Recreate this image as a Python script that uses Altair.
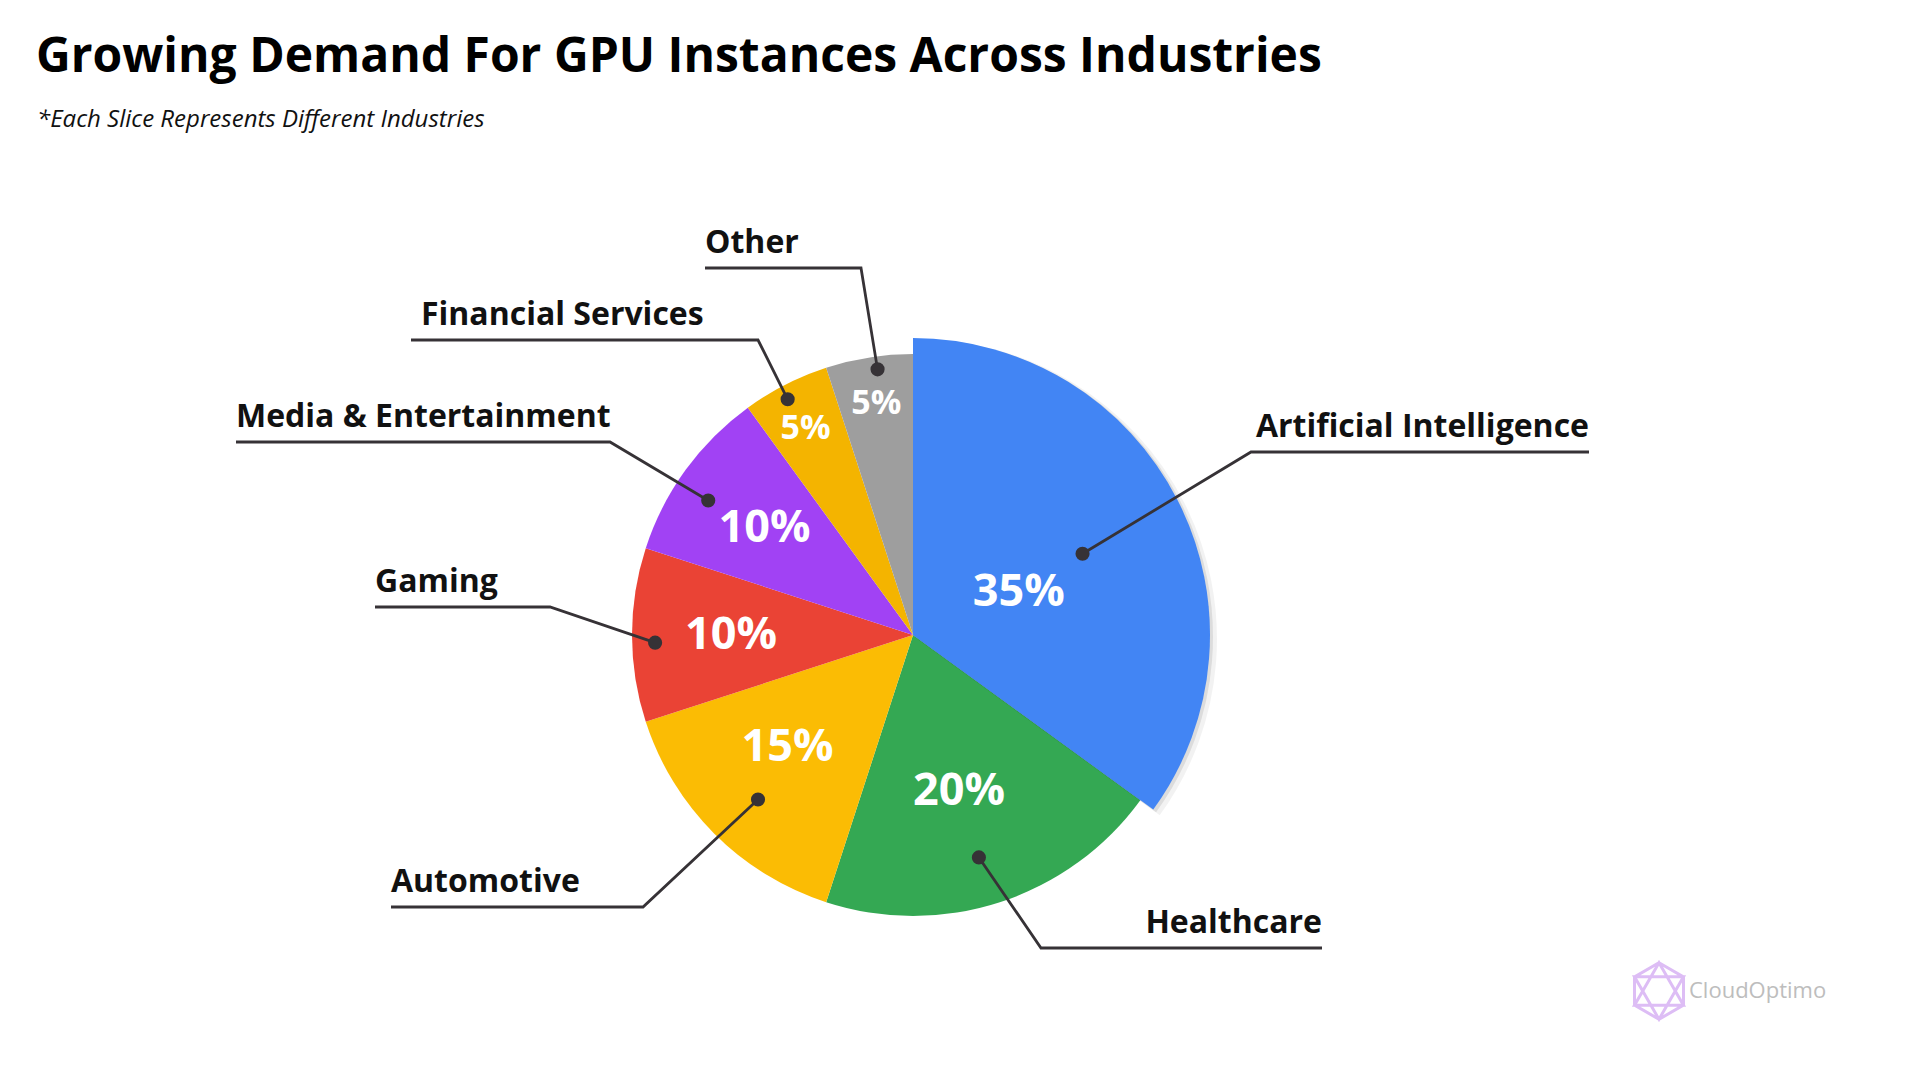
import math
import altair as alt
import pandas as pd

# ---------------- data ----------------
industries = ["Artificial Intelligence", "Healthcare", "Automotive", "Gaming",
              "Media & Entertainment", "Financial Services", "Other"]
shares = [35, 20, 15, 10, 10, 5, 5]
pct_labels = ["35%", "20%", "15%", "10%", "10%", "5%", "5%"]

title_text = "Growing Demand For GPU Instances Across Industries"
subtitle_text = "*Each Slice Represents Different Industries"
brand_text = "CloudOptimo"

# ---------------- style / layout ----------------
colors = ["#4285F4", "#34A853", "#FBBC04", "#EA4335", "#A142F4", "#F4B400", "#9E9E9E"]
OFF = 8                      # page margin
W, H = 1904, 1064
CX, CY = 913 - OFF, 635 - OFF
R = 281                      # regular slice radius
R_BIG = 297                  # highlighted slice radius
HIGHLIGHT = "Artificial Intelligence"

pct_r = [114, 163, 168, 182, 183, 232, 234]       # radius of % labels
pct_dang = [5.0, 1.6, 3.3, 0.0, -0.2, -0.6, 0.0]  # angle tweak of % labels (deg)
dot_r = [188, 232, 226, 258, 245, 267, 268]       # radius of leader dots
dot_dang = [1.4, 1.5, -1.7, -1.7, -2.7, -1.0, 1.4]
elbow_x = [1251, 1041, 643, 550, 610, 758, 861]   # page coords
line_y = [452, 948, 907, 607, 442, 340, 268]
outer_x = [1589, 1322, 391, 375, 236, 411, 705]
text_x = [1589, 1322, 391, 375, 236, 421, 705]

LINE_COLOR = "#363236"
FONT = "Open Sans"

# ---------------- tables ----------------
total = sum(shares)
pie_df = pd.DataFrame({
    "industry": industries,
    "value": shares,
    "idx": list(range(len(industries))),
})

cum = 0
label_angles = []
line_rows, dot_rows, lab_rows = [], [], []
for i, (name, v) in enumerate(zip(industries, shares)):
    mid = (cum + v / 2) / total * 2 * math.pi
    cum += v
    label_angles.append(mid + math.radians(pct_dang[i]))
    da = mid + math.radians(dot_dang[i])
    dx = CX + dot_r[i] * math.sin(da)
    dy = CY - dot_r[i] * math.cos(da)
    ex, ly, ox = elbow_x[i] - OFF, line_y[i] - OFF, outer_x[i] - OFF
    line_rows += [
        {"industry": name, "pt": 0, "x": dx, "y": dy},
        {"industry": name, "pt": 1, "x": ex, "y": ly},
        {"industry": name, "pt": 2, "x": ox, "y": ly},
    ]
    dot_rows.append({"industry": name, "x": dx, "y": dy})
    lab_rows.append({"industry": name, "x": text_x[i] - OFF, "y": ly - 15,
                     "side": "left" if ox < ex else "right"})

pct_df = pd.DataFrame({
    "label": pct_labels,
    "share": shares,
    "mid_angle": label_angles,
    "pct_r": pct_r,
})
lines_df = pd.DataFrame(line_rows)
dots_df = pd.DataFrame(dot_rows)
labs_df = pd.DataFrame(lab_rows)

# ---------------- pie ----------------
base = alt.Chart(pie_df).encode(
    theta=alt.Theta("value:Q", stack=True),
    order=alt.Order("idx:Q"),
)
color_enc = alt.Color("industry:N", scale=alt.Scale(domain=industries, range=colors), legend=None)
is_hl = alt.datum.industry == HIGHLIGHT

slices = base.mark_arc().encode(
    color=color_enc, x=alt.value(CX), y=alt.value(CY), radius=alt.value(R)
)
shadow1 = base.mark_arc(color="#000000").encode(
    x=alt.value(CX + 4), y=alt.value(CY + 4), radius=alt.value(R_BIG + 3),
    opacity=alt.condition(is_hl, alt.value(0.05), alt.value(0)),
)
shadow2 = base.mark_arc(color="#000000").encode(
    x=alt.value(CX + 2), y=alt.value(CY + 2), radius=alt.value(R_BIG + 1),
    opacity=alt.condition(is_hl, alt.value(0.09), alt.value(0)),
)
hl_slice = base.mark_arc().encode(
    color=color_enc, x=alt.value(CX), y=alt.value(CY), radius=alt.value(R_BIG),
    opacity=alt.condition(is_hl, alt.value(1), alt.value(0)),
)

# percentage labels near the middle angle of each slice
pct_text = alt.Chart(pct_df).mark_text(
    font=FONT, fontWeight="bold", color="white", align="center", baseline="middle"
).encode(
    theta=alt.Theta("mid_angle:Q", scale=None, stack=None),
    radius=alt.Radius("pct_r:Q", scale=None),
    x=alt.value(CX), y=alt.value(CY),
    text="label:N",
    size=alt.condition("datum.share < 10", alt.value(34), alt.value(45)),
)

# ---------------- leaders ----------------
leader_lines = alt.Chart(lines_df).mark_line(color=LINE_COLOR, strokeWidth=2.8).encode(
    x=alt.X("x:Q", scale=None, axis=None),
    y=alt.Y("y:Q", scale=None, axis=None),
    detail="industry:N",
    order="pt:Q",
)
leader_dots = alt.Chart(dots_df).mark_circle(size=200, color=LINE_COLOR, opacity=1).encode(
    x=alt.X("x:Q", scale=None, axis=None),
    y=alt.Y("y:Q", scale=None, axis=None),
)
lab_left = alt.Chart(labs_df).transform_filter(alt.datum.side == "left").mark_text(
    font=FONT, fontWeight="bold", fontSize=32, color="#111111",
    align="left", baseline="alphabetic").encode(
    x=alt.X("x:Q", scale=None, axis=None),
    y=alt.Y("y:Q", scale=None, axis=None),
    text="industry:N",
)
lab_right = alt.Chart(labs_df).transform_filter(alt.datum.side == "right").mark_text(
    font=FONT, fontWeight="bold", fontSize=32, color="#111111",
    align="right", baseline="alphabetic").encode(
    x=alt.X("x:Q", scale=None, axis=None),
    y=alt.Y("y:Q", scale=None, axis=None),
    text="industry:N",
)

# ---------------- titles & brand ----------------
txt_df = pd.DataFrame({"t": [title_text]})
title = alt.Chart(txt_df).mark_text(
    font=FONT, fontWeight="bold", fontSize=48, color="#000000",
    align="left", baseline="alphabetic").encode(
    x=alt.value(36 - OFF), y=alt.value(72 - OFF), text="t:N")
sub_df = pd.DataFrame({"t": [subtitle_text]})
subtitle = alt.Chart(sub_df).mark_text(
    font=FONT, fontStyle="italic", fontSize=24, color="#111111",
    align="left", baseline="alphabetic").encode(
    x=alt.value(37 - OFF), y=alt.value(127 - OFF), text="t:N")

brand_df = pd.DataFrame({"t": [brand_text]})
brand = alt.Chart(brand_df).mark_text(
    font=FONT, fontSize=22, color="#BDBDBD",
    align="left", baseline="alphabetic").encode(
    x=alt.value(1689 - OFF), y=alt.value(998 - OFF), text="t:N")
hex_path = ("M0,-1 L0.866,-0.5 L0.866,0.5 L0,1 L-0.866,0.5 L-0.866,-0.5 Z "
            "M0,-1 L0.866,0.5 L-0.866,0.5 Z M0,1 L0.866,-0.5 L-0.866,-0.5 Z")
icon = alt.Chart(brand_df).mark_point(
    shape=hex_path, filled=False, stroke="#DDBDF5", strokeWidth=3, size=3200, opacity=1).encode(
    x=alt.value(1659 - OFF), y=alt.value(991 - OFF))

chart = alt.layer(
    slices, shadow1, shadow2, hl_slice, pct_text,
    leader_lines, leader_dots, lab_left, lab_right,
    title, subtitle, brand, icon,
).properties(
    width=W, height=H,
    autosize=alt.AutoSizeParams(type="none"),
    padding=0,
    background="white",
).configure_view(stroke=None)

chart.save("out.html", embed_options={"renderer": "svg", "actions": False})
